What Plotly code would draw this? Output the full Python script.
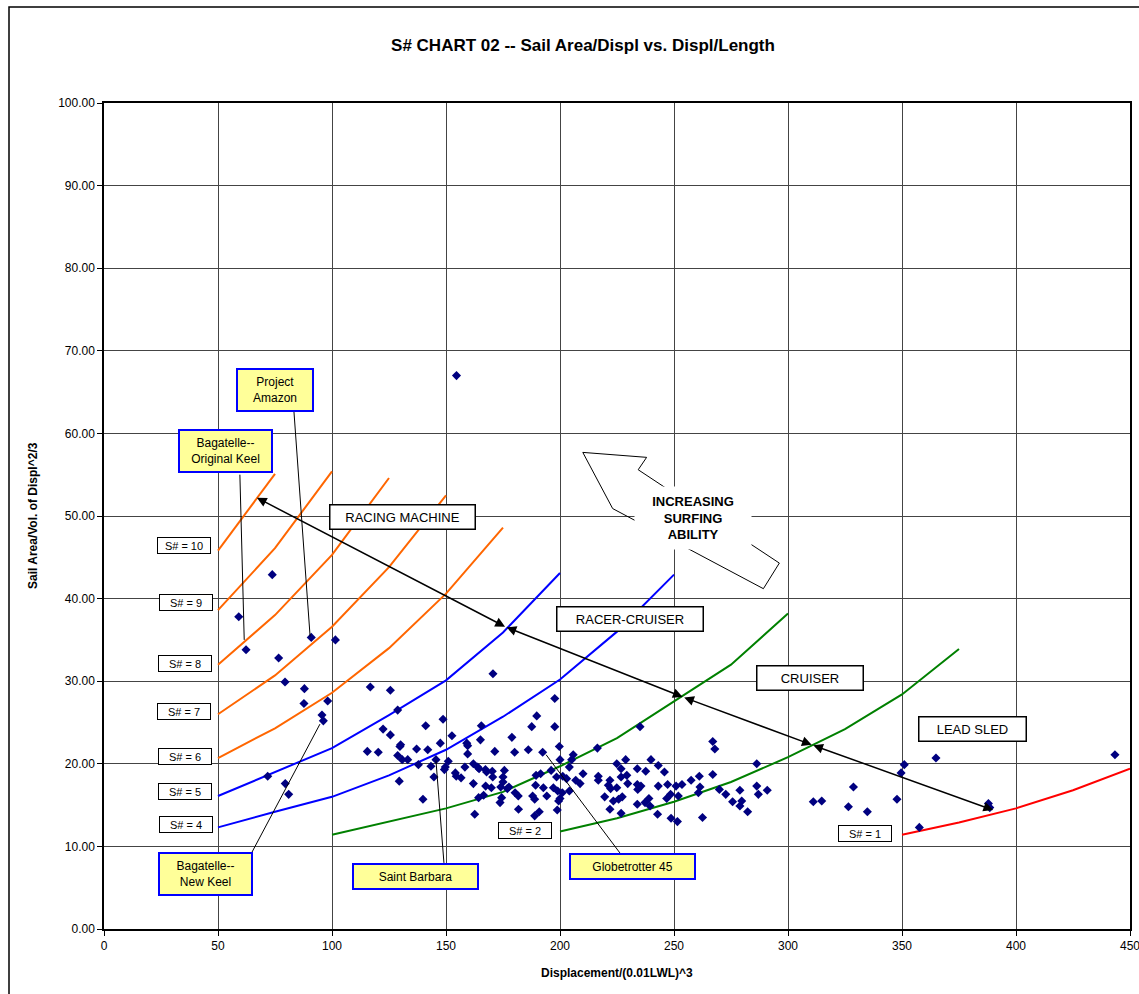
import plotly.graph_objects as go

# ---------------- data ----------------
S10_X = [50, 75]
S10_Y = [45.8, 55.1]
S9_X = [50, 75, 100]
S9_Y = [38.6, 46.1, 55.4]
S8_X = [50, 75, 100, 125]
S8_Y = [32.0, 38.0, 45.3, 54.6]
S7_X = [50, 75, 100, 125, 150]
S7_Y = [26.0, 30.7, 36.6, 43.8, 52.5]
S6_X = [50, 75, 100, 125, 150, 175]
S6_Y = [20.7, 24.3, 28.6, 34.0, 40.6, 48.6]
S5_X = [50, 75, 100, 125, 150, 175, 200]
S5_Y = [16.1, 19.0, 21.9, 25.9, 30.1, 35.9, 43.1]
S4_X = [50, 75, 100, 125, 150, 175, 200, 225, 250]
S4_Y = [12.3, 14.2, 16.0, 18.6, 21.7, 25.7, 30.2, 36.0, 42.9]
S3_X = [100, 125, 150, 175, 200, 225, 250, 275, 300]
S3_Y = [11.4, 13.0, 14.6, 16.6, 19.7, 23.1, 27.5, 32.0, 38.2]
S2_X = [200, 225, 250, 275, 300, 325, 350, 375]
S2_Y = [11.8, 13.4, 15.4, 17.8, 20.8, 24.2, 28.4, 33.9]
S1_X = [350, 375, 400, 425, 450]
S1_Y = [11.4, 12.9, 14.6, 16.8, 19.4]

BOAT_X = [
    73.8, 59.1, 62.3, 90.9, 101.5, 76.6, 79.4, 87.9, 87.7, 98.1, 95.6, 96.2, 71.8, 79.5, 81.0,
    154.6,
    170.6, 116.8, 125.6, 128.8, 197.7, 189.8, 148.7, 122.4, 125.6, 141.1, 165.5, 187.6, 197.7,
    152.6, 178.9, 165.1, 130.1, 129.8, 137.1, 142.0, 147.5, 115.5, 120.3, 159.1, 159.5, 159.5,
    171.4, 180.1, 186.1, 192.4, 199.7, 128.8, 130.8, 133.2, 145.6, 151.0, 137.9, 143.4, 149.3,
    149.7, 158.3, 162.0, 163.9, 164.5, 167.3, 167.8, 170.3, 175.6, 154.1, 154.5, 156.6, 170.5,
    175.0, 144.7, 129.5, 175.0, 189.5, 191.5, 196.1, 198.5, 162.0, 167.4, 169.9, 174.0, 177.6,
    176.9, 189.3, 192.7, 197.1, 199.0, 201.0, 166.5, 164.3, 174.4, 180.3, 181.7, 188.0, 188.9,
    194.2, 200.0, 199.4, 139.9, 173.7, 181.8, 162.6, 190.9, 188.9, 198.8,
    235.1, 216.4, 205.8, 205.1, 200.0, 204.1, 201.2, 202.9, 206.9, 210.1, 208.8, 204.1, 224.9,
    228.8, 226.8, 233.9, 239.9, 237.6, 243.1, 245.8, 216.8, 216.8, 221.9, 226.8, 229.3, 229.7,
    221.2, 222.2, 224.9, 233.9, 235.5, 234.1, 243.1, 247.2, 250.9, 253.5, 257.5, 261.1, 261.4,
    267.0, 260.7, 219.6, 223.4, 225.7, 227.3, 221.9, 226.8, 233.9, 237.3, 239.0, 239.5, 242.8,
    246.8, 248.5, 251.9, 248.7, 251.5, 262.5, 267.0, 267.9, 269.9, 272.7, 275.7, 278.9, 278.9,
    279.7, 282.3, 286.3, 286.3, 287.0, 290.9,
    311.1, 314.8, 326.5, 328.7, 334.8, 347.8, 349.6, 351.0, 364.9, 357.6, 387.9, 388.5, 443.4,
]
BOAT_Y = [
    42.9, 37.8, 33.8, 35.3, 35.0, 32.8, 29.9, 29.1, 27.3, 27.6, 25.9, 25.2, 18.5, 17.6, 16.3,
    67.0,
    30.9, 29.3, 28.9, 26.5, 27.9, 25.8, 25.4, 24.2, 23.5, 24.6, 24.6, 24.5, 24.5,
    23.4, 23.2, 22.9, 22.3, 22.1, 21.8, 21.7, 22.5, 21.5, 21.4, 22.5, 22.2, 21.2,
    21.5, 21.4, 21.7, 21.4, 22.1, 21.0, 20.5, 20.5, 20.5, 20.3, 19.9, 19.7, 19.3,
    19.6, 19.6, 20.0, 19.6, 19.4, 19.3, 19.0, 19.1, 19.2, 18.9, 18.5, 18.3, 18.4,
    18.4, 18.4, 17.9, 17.8, 18.6, 18.8, 19.2, 18.4, 17.6, 17.3, 17.1, 17.2, 17.2,
    17.0, 17.4, 17.1, 17.1, 16.7, 16.5, 16.2, 15.9, 15.9, 16.5, 16.1, 16.1, 15.7,
    16.1, 15.8, 15.5, 15.7, 15.3, 14.5, 13.9, 14.2, 13.7, 14.4,
    24.5, 21.9, 21.1, 20.5, 20.5, 19.6, 18.5, 18.2, 18.0, 18.8, 17.6, 16.7, 20.0,
    20.5, 19.4, 19.4, 20.5, 19.1, 19.8, 19.0, 18.5, 18.0, 18.0, 18.4, 18.6, 17.6,
    17.4, 17.0, 17.1, 17.5, 17.3, 16.9, 17.3, 17.5, 17.3, 17.5, 18.0, 18.5, 17.2,
    18.7, 16.5, 16.0, 15.5, 15.7, 16.0, 14.5, 14.0, 15.1, 15.3, 15.8, 14.9, 13.9,
    15.8, 16.3, 16.1, 13.4, 13.0, 13.5, 22.7, 21.8, 16.9, 16.3, 15.4, 16.8, 14.9,
    15.5, 14.2, 20.0, 17.3, 16.3, 16.8,
    15.4, 15.5, 14.8, 17.2, 14.2, 15.7, 18.9, 19.9, 20.7, 12.3, 15.2, 14.7, 21.1,
]

X_TICKS = [0, 50, 100, 150, 200, 250, 300, 350, 400, 450]
Y_TICKS = [0, 10, 20, 30, 40, 50, 60, 70, 80, 90, 100]

SN_LABELS = ["S# = 10", "S# = 9", "S# = 8", "S# = 7", "S# = 6", "S# = 5", "S# = 4", "S# = 2", "S# = 1"]
SN_LABEL_X = [35.1, 36.0, 35.7, 35.1, 35.7, 35.7, 36.0, 184.6, 333.8]
SN_LABEL_Y = [46.4, 39.5, 32.2, 26.3, 20.9, 16.6, 12.7, 11.9, 11.6]

CAT_LABELS = ["RACING MACHINE", "RACER-CRUISER", "CRUISER", "LEAD SLED"]
CAT_X = [130.7, 230.9, 309.6, 380.7]
CAT_Y = [49.9, 37.5, 30.4, 24.2]
CAT_W = [140, 141, 101, 102]

BOAT_NAMES = ["Project<br>Amazon", "Bagatelle--<br>Original Keel", "Bagatelle--<br>New Keel",
              "Saint Barbara", "Globetrotter 45"]
NAME_X = [75.2, 53.5, 44.3, 136.8, 232.0]
NAME_Y = [65.3, 57.9, 6.7, 6.3, 7.6]
NAME_W = [72, 89, 89, 121, 121]
NAME_H = [38, 38, 38, 21, 21]
LEADER_X0 = [83.3, 59.6, 64.9, 149.1, 226.3]
LEADER_Y0 = [62.7, 55.0, 9.3, 8.0, 9.2]
LEADER_X1 = [90.4, 61.5, 94.7, 145.6, 193.9]
LEADER_Y1 = [35.4, 35.0, 24.8, 20.4, 21.1]

ARROW_X = [66.4, 175.9, 253.8, 310.4, 390.0]
ARROW_Y = [52.3, 36.6, 28.1, 22.3, 14.4]

SURF_X = [210.0, 238.0, 234.3, 296.2, 289.2, 223.1]
SURF_Y = [57.7, 57.1, 55.6, 44.3, 41.2, 50.9]

FONT = "Liberation Sans, Arial, sans-serif"

# ---------------- figure ----------------
fig = go.Figure()

curves = [
    (S10_X, S10_Y, "#FF6600"), (S9_X, S9_Y, "#FF6600"), (S8_X, S8_Y, "#FF6600"),
    (S7_X, S7_Y, "#FF6600"), (S6_X, S6_Y, "#FF6600"),
    (S5_X, S5_Y, "#0000FF"), (S4_X, S4_Y, "#0000FF"),
    (S3_X, S3_Y, "#008000"), (S2_X, S2_Y, "#008000"),
    (S1_X, S1_Y, "#FF0000"),
]
for cx, cy, col in curves:
    fig.add_trace(go.Scatter(x=cx, y=cy, mode="lines", line=dict(color=col, width=2),
                             showlegend=False, hoverinfo="skip", cliponaxis=False))

fig.add_trace(go.Scatter(x=BOAT_X, y=BOAT_Y, mode="markers",
                         marker=dict(symbol="diamond", size=7, color="#000080"),
                         showlegend=False, hoverinfo="skip"))

shapes = []
annotations = []

# leader lines
for x0, y0, x1, y1 in zip(LEADER_X0, LEADER_Y0, LEADER_X1, LEADER_Y1):
    shapes.append(dict(type="line", xref="x", yref="y", x0=x0, y0=y0, x1=x1, y1=y1,
                       line=dict(color="black", width=1)))

# block arrow "increasing surfing ability"
path = "M " + " L ".join(f"{a},{b}" for a, b in zip(SURF_X, SURF_Y)) + " Z"
shapes.append(dict(type="path", xref="x", yref="y", path=path,
                   line=dict(color="black", width=1), fillcolor="rgba(0,0,0,0)"))

# outer chart frame
shapes.append(dict(type="rect", xref="paper", yref="paper",
                   x0=(9 - 104) / 1026, x1=(1150 - 104) / 1026,
                   y0=(929 - 1005) / 826, y1=(929 - 7) / 826,
                   line=dict(color="black", width=1.5), fillcolor="rgba(0,0,0,0)", layer="below"))

annotations.append(dict(xref="x", yref="y", x=258.5, y=49.7,
                        text="<b>INCREASING<br>SURFING<br>ABILITY</b>", showarrow=False,
                        font=dict(family=FONT, size=13, color="black"),
                        bgcolor="white", width=112, height=58, borderpad=2))

# double arrows between curve crossings
for i in range(len(ARROW_X) - 1):
    annotations.append(dict(xref="x", yref="y", axref="x", ayref="y",
                            x=ARROW_X[i + 1], y=ARROW_Y[i + 1], ax=ARROW_X[i], ay=ARROW_Y[i],
                            text="", showarrow=True, arrowhead=2, startarrowhead=2,
                            arrowside="end+start", arrowsize=1.3, startarrowsize=1.3,
                            arrowwidth=1.5, arrowcolor="black"))

for t, x, y in zip(SN_LABELS, SN_LABEL_X, SN_LABEL_Y):
    annotations.append(dict(xref="x", yref="y", x=x, y=y, text=t, showarrow=False,
                            font=dict(family=FONT, size=11, color="black"),
                            bgcolor="white", bordercolor="black", borderwidth=1,
                            borderpad=1, width=50, height=13))

for t, x, y, w in zip(CAT_LABELS, CAT_X, CAT_Y, CAT_W):
    annotations.append(dict(xref="x", yref="y", x=x, y=y, text=t, showarrow=False,
                            font=dict(family=FONT, size=13, color="black"),
                            bgcolor="white", bordercolor="black", borderwidth=1.5,
                            borderpad=2, width=w, height=19))

for t, x, y, w, h in zip(BOAT_NAMES, NAME_X, NAME_Y, NAME_W, NAME_H):
    annotations.append(dict(xref="x", yref="y", x=x, y=y, text=t, showarrow=False,
                            font=dict(family=FONT, size=12, color="black"),
                            bgcolor="#FFFF99", bordercolor="#0000FF", borderwidth=2,
                            borderpad=1, width=w, height=h))

# axis titles
annotations.append(dict(xref="paper", yref="paper", x=(617 - 104) / 1026, y=(929 - 973) / 826,
                        text="<b>Displacement/(0.01LWL)^3</b>", showarrow=False,
                        font=dict(family=FONT, size=12, color="black"),
                        xanchor="center", yanchor="middle"))
annotations.append(dict(xref="paper", yref="paper", x=(33 - 104) / 1026, y=0.5,
                        text="<b>Sail Area/Vol. of Displ^2/3</b>", showarrow=False, textangle=-90,
                        font=dict(family=FONT, size=12, color="black"),
                        xanchor="center", yanchor="middle"))

fig.update_layout(
    width=1139, height=994,
    margin=dict(l=104, r=9, t=103, b=65, autoexpand=False),
    paper_bgcolor="white", plot_bgcolor="white",
    font=dict(family=FONT, size=12, color="black"),
    title=dict(text="<b>S# CHART 02 -- Sail Area/Displ vs. Displ/Length</b>",
               x=583 / 1139, y=1 - 45 / 994, xref="container", yref="container",
               xanchor="center", yanchor="middle",
               font=dict(family=FONT, size=17, color="black")),
    shapes=shapes, annotations=annotations,
    hovermode=False, showlegend=False,
)
fig.update_xaxes(range=[0, 450], tickvals=X_TICKS, ticktext=[str(v) for v in X_TICKS],
                 showgrid=True, gridcolor="#444444", gridwidth=1, automargin=False,
                 ticklabeloverflow="allow",
                 showline=True, linecolor="black", linewidth=1.5, mirror=True,
                 ticks="outside", ticklen=5, tickcolor="black", zeroline=False,
                 tickfont=dict(family=FONT, size=12, color="black"))
fig.update_yaxes(range=[0, 100], tickvals=Y_TICKS, ticktext=[f"{v:.2f}" for v in Y_TICKS],
                 showgrid=True, gridcolor="#444444", gridwidth=1, automargin=False,
                 ticklabeloverflow="allow",
                 showline=True, linecolor="black", linewidth=1.5, mirror=True,
                 ticks="outside", ticklen=5, tickcolor="black", zeroline=False,
                 tickfont=dict(family=FONT, size=12, color="black"))

fig.write_html("out.html", config={"displayModeBar": False},
               post_script="document.body.style.margin='0';document.body.style.overflow='hidden';")
